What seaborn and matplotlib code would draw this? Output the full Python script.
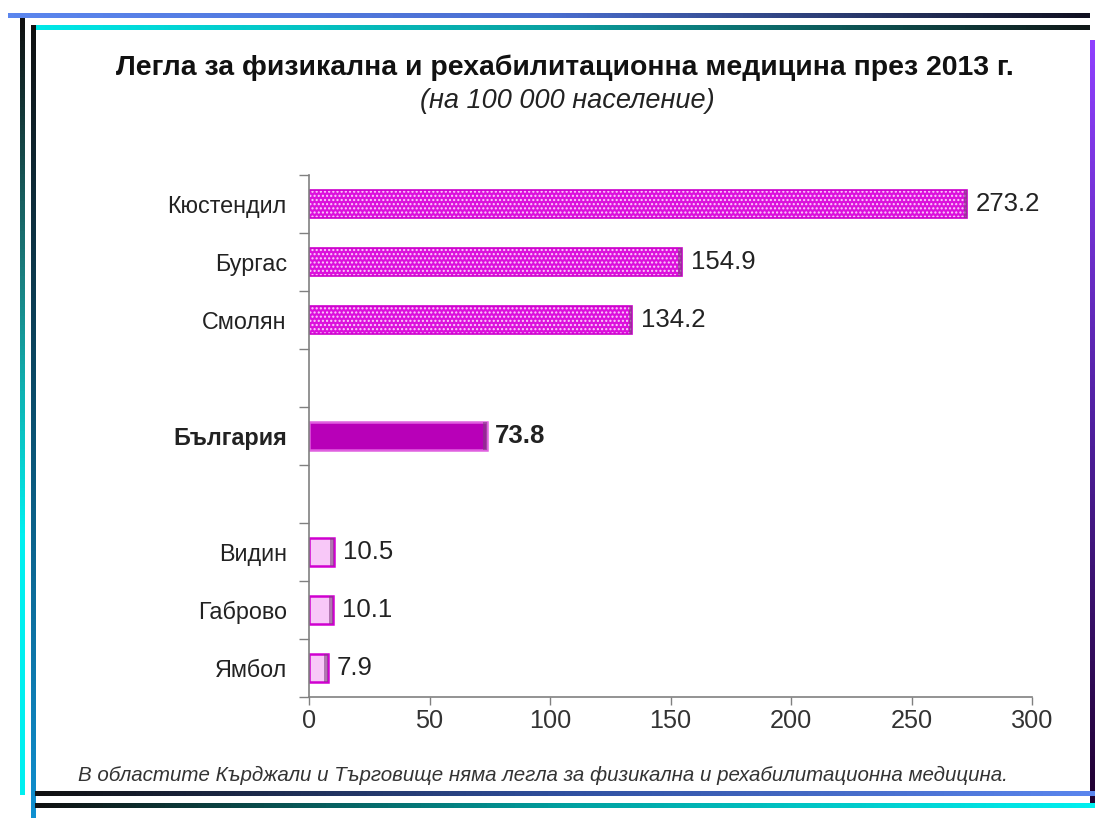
import numpy as np
import pandas as pd
import seaborn as sns
import matplotlib.pyplot as plt
from matplotlib.colors import LinearSegmentedColormap
from matplotlib.patches import Rectangle

# Данни
regions = ['Кюстендил', 'Бургас', 'Смолян', 'България', 'Видин', 'Габрово', 'Ямбол']
beds = [273.2, 154.9, 134.2, 73.8, 10.5, 10.1, 7.9]
groups = ['high', 'high', 'high', 'country', 'low', 'low', 'low']
# празни позиции между групите
order = ['Кюстендил', 'Бургас', 'Смолян', ' ', 'България', '  ', 'Видин', 'Габрово', 'Ямбол']
x_ticks = [0, 50, 100, 150, 200, 250, 300]

title = 'Легла за физикална и рехабилитационна медицина през 2013 г.'
subtitle = '(на 100 000 население)'
note = 'В областите Кърджали и Търговище няма легла за физикална и рехабилитационна медицина.'

df = pd.DataFrame({'Region': regions, 'Beds': beds, 'Group': groups})

sns.set_style('white')
plt.rcParams['font.family'] = ['Liberation Sans', 'DejaVu Sans']
plt.rcParams['hatch.linewidth'] = 1.0

W, H = 1098, 818
fig = plt.figure(figsize=(W / 100, H / 100), dpi=100)
fig.patch.set_facecolor('white')

ax = fig.add_axes([309 / W, 1 - 697 / H, (1032 - 309) / W, (697 - 175) / H])
ax.set_facecolor('none')

sns.barplot(data=df, x='Beds', y='Region', order=order, orient='h',
            width=0.48, color='#dd22dd', errorbar=None, ax=ax)

styles = {
    'high': dict(face='#dc10dc', edge='#cc00cc', hatch='....'),
    'country': dict(face='#b800b8', edge='#e060e0', hatch=None),
    'low': dict(face='#f8c8f8', edge='#d000d0', hatch=None),
}
group_of = dict(zip(regions, groups))

for p in list(ax.patches):
    idx = int(round(p.get_y() + p.get_height() / 2))
    name = order[idx]
    st = styles[group_of[name]]
    if st['hatch']:
        p.set_facecolor(st['face'])
        p.set_edgecolor('#fbd0fb')
        p.set_hatch(st['hatch'])
        p.set_linewidth(0)
        ax.add_patch(Rectangle(p.get_xy(), p.get_width(), p.get_height(),
                               fill=False, edgecolor=st['edge'], linewidth=1.2))
    else:
        p.set_facecolor(st['face'])
        p.set_edgecolor(st['edge'])
        p.set_linewidth(1.8)
    # тъмен край вдясно (3D ефект)
    ax.add_patch(Rectangle((p.get_x() + p.get_width() - 1.6, p.get_y()), 1.6, p.get_height(),
                           facecolor='#804080', edgecolor='none', alpha=0.6))
    bold = name == 'България'
    ax.annotate(f'{p.get_width():.1f}', xy=(p.get_width(), p.get_y() + p.get_height() / 2),
                xytext=(6, 0), textcoords='offset points', va='center', ha='left',
                fontsize=18.5, color='#222222', fontweight='bold' if bold else 'normal')

ax.set_xlim(0, 300)
ax.set_ylim(8.5, -0.5)
ax.set_xticks(x_ticks)
ax.set_xticklabels([str(t) for t in x_ticks])
ax.set_yticks(range(len(order)))
ax.set_yticklabels(order)
ax.set_yticks(np.arange(-0.5, len(order), 1), minor=True)
ax.set_xlabel('')
ax.set_ylabel('')

ax.tick_params(axis='x', direction='out', length=6, width=1, color='#808080',
               labelsize=18.2, labelcolor='#333333', pad=3, bottom=True)
ax.tick_params(axis='y', which='major', length=0, pad=16, labelsize=16.8, labelcolor='#222222')
ax.tick_params(axis='y', which='minor', direction='out', length=7, width=1, color='#808080', left=True)
for lbl in ax.get_yticklabels():
    if lbl.get_text() == 'България':
        lbl.set_fontweight('bold')

for side in ['top', 'right']:
    ax.spines[side].set_visible(False)
for side in ['left', 'bottom']:
    ax.spines[side].set_color('#808080')
    ax.spines[side].set_linewidth(1.2)

# Заглавие
fig.text(565 / W, 1 - 68 / H, title, ha='center', va='center', fontsize=20.4,
         fontweight='bold', color='#111111')
fig.text(567 / W, 1 - 101 / H, subtitle, ha='center', va='center', fontsize=19.5,
         fontstyle='italic', color='#222222')
fig.text(78 / W, 1 - 775 / H, note, ha='left', va='center', fontsize=14.8,
         fontstyle='italic', color='#333333')

# Декоративна рамка с преливащи се линии
deco = fig.add_axes([0, 0, 1, 1], zorder=-1)
deco.set_xlim(0, W)
deco.set_ylim(H, 0)
deco.axis('off')


def gradient_line(x0, x1, y0, y1, colors, vertical=False):
    cmap = LinearSegmentedColormap.from_list('g', colors)
    grad = np.linspace(0, 1, 256)
    grad = grad.reshape(-1, 1) if vertical else grad.reshape(1, -1)
    deco.imshow(grad, cmap=cmap, extent=(x0, x1, y1, y0), aspect='auto',
                interpolation='bilinear')


gradient_line(8, 1090, 13, 18, ['#5b86ee', '#4a6ed0', '#101020'])
gradient_line(35, 1090, 25, 30, ['#00e8e8', '#0aa0a0', '#101818'])
gradient_line(20, 25, 18, 795, ['#101010', '#1a8080', '#00f0f0', '#00f0f0'], vertical=True)
gradient_line(31, 36, 25, 818, ['#101010', '#0a5070', '#1090d0'], vertical=True)
gradient_line(1090, 1095, 40, 805, ['#9040ff', '#5020a0', '#200030'], vertical=True)
gradient_line(35, 1095, 791, 796, ['#101010', '#3050a0', '#5b86ee'])
gradient_line(35, 1095, 803, 808, ['#101010', '#00a0a0', '#00f0f0'])
deco.set_xlim(0, W)
deco.set_ylim(H, 0)

fig.savefig('out.png', dpi=100)
